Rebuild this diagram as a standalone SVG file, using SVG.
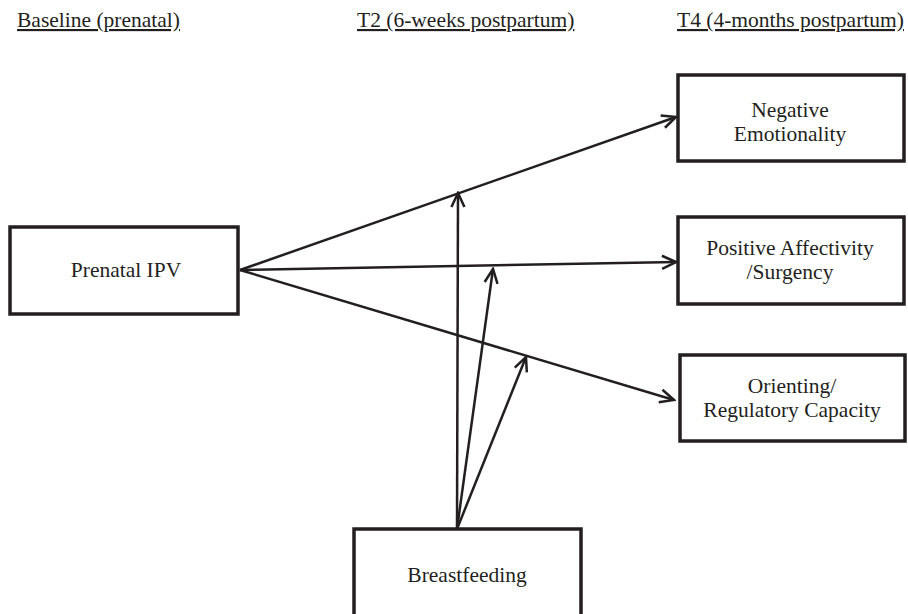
<svg xmlns="http://www.w3.org/2000/svg" width="908" height="614" viewBox="0 0 908 614">
<style>
text{font-family:"Liberation Serif","Times New Roman",serif;font-size:21.5px;fill:#231f20}
.hdr{text-decoration:underline}
.box{fill:#fff;stroke:#231f20;stroke-width:3.5}
.c{text-anchor:middle}
.edge{stroke:#231f20;stroke-width:2.5;fill:none;marker-end:url(#arr)}
</style>
<defs>
<marker id="arr" markerUnits="userSpaceOnUse" viewBox="-16 -9 18 18" refX="0" refY="0" markerWidth="18" markerHeight="18" orient="auto">
<path d="M-14,-6.5 L0,0 L-14,6.5" fill="none" stroke="#231f20" stroke-width="2.5" stroke-linejoin="miter"/>
</marker>
</defs>
<rect width="908" height="614" fill="#fff"/>
<g id="headers">
<text class="hdr" x="17" y="27">Baseline (prenatal)</text>
<text class="hdr" x="357" y="27">T2 (6-weeks postpartum)</text>
<text class="hdr" x="677" y="27">T4 (4-months postpartum)</text>
</g>
<g id="connectors">
<line class="edge" x1="240" y1="270" x2="676" y2="117"/>
<line class="edge" x1="240" y1="270" x2="676" y2="262"/>
<line class="edge" x1="240" y1="270" x2="674" y2="400"/>
<line class="edge" x1="457" y1="529" x2="458" y2="193"/>
<line class="edge" x1="457" y1="529" x2="493" y2="269"/>
<line class="edge" x1="457" y1="529" x2="526" y2="357"/>
</g>
<g id="prenatal-ipv">
<rect class="box" x="10" y="227" width="228" height="87"/>
<text class="c" x="126" y="277">Prenatal IPV</text>
</g>
<g id="negative-emotionality">
<rect class="box" x="678" y="75" width="226" height="86"/>
<text class="c" x="790" y="117">Negative</text>
<text class="c" x="790" y="141">Emotionality</text>
</g>
<g id="positive-affectivity">
<rect class="box" x="678" y="217" width="226" height="87"/>
<text class="c" x="790" y="255">Positive Affectivity</text>
<text class="c" x="790" y="279">/Surgency</text>
</g>
<g id="orienting">
<rect class="box" x="680" y="355" width="225" height="86"/>
<text class="c" x="792" y="393">Orienting/</text>
<text class="c" x="792" y="417">Regulatory Capacity</text>
</g>
<g id="breastfeeding">
<rect class="box" x="354" y="529" width="227" height="100"/>
<text class="c" x="467" y="582">Breastfeeding</text>
</g>
</svg>
